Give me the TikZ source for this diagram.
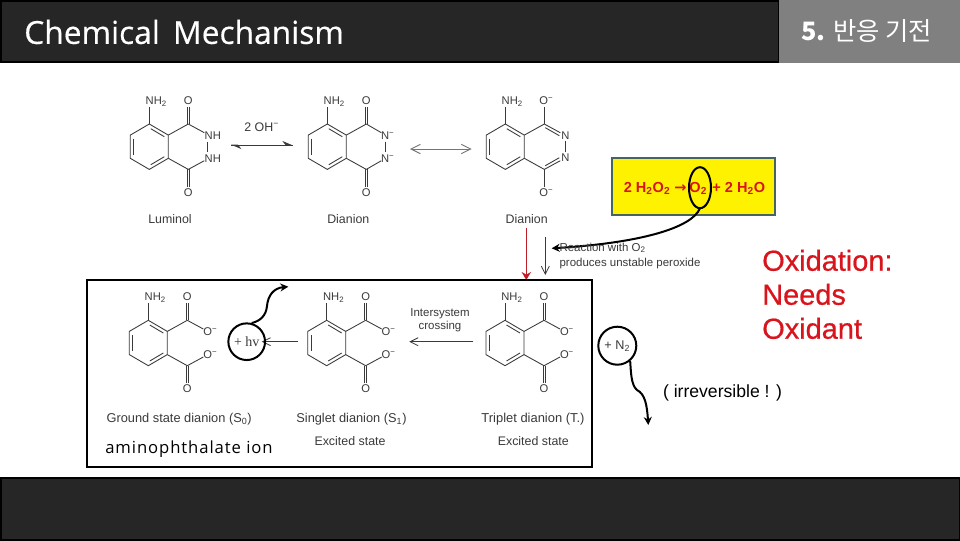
\documentclass[tikz,border=0pt]{standalone}
\usepackage{fontspec}
\setmainfont{Liberation Sans}
\newfontfamily\krfont{Noto Sans CJK KR}
\newfontfamily\titlefont[WordSpace=1.6,FakeBold=0.4]{Open Sans}
\newfontfamily\ionfont[LetterSpace=5.5]{Open Sans}
\newfontfamily\sermo{Liberation Serif}
\newfontfamily\oxfont[FakeBold=0.6]{Liberation Sans}
\newfontfamily\dvfont{DejaVu Sans}
\usetikzlibrary{arrows.meta}
\definecolor{hdr}{HTML}{262626}
\definecolor{chem}{HTML}{3A3A3A}
\definecolor{redtxt}{HTML}{D8141C}
\tikzset{
  bar/.style={fill=hdr,draw=black,line width=1.5pt},
  bnd/.style={draw=chem,line width=0.65pt},
  atom/.style={text=chem,font=\fontsize{8.4}{10}\selectfont,inner sep=0pt},
  lbl/.style={text=chem,font=\fontsize{9.3}{11}\selectfont,inner sep=0pt},
  lblwide/.style={text=chem,font=\fontsize{9.6}{11}\selectfont,inner sep=0pt},
  lblsmall/.style={text=chem,font=\fontsize{8.6}{10}\selectfont,inner sep=0pt},
  rxn/.style={draw=chem,line width=0.6pt},
  ink/.style={draw=black,line width=1.5pt},
  inkarrow/.style={ink,-{Stealth[length=6pt,width=6pt]}},
  oxid/.style={text=redtxt,font=\oxfont\fontsize{21.7}{25.5}\selectfont,align=left,inner sep=0pt},
  eqn/.style={text=redtxt,font=\bfseries\fontsize{10.9}{12}\selectfont,inner sep=0pt}
}
% benzene ring with NH2, centred on the current scope origin
\newcommand{\benz}[1]{%
  \draw[bnd] (0,-22.7) -- (19,-11.6) -- (19,11.6) -- (0,22.7) -- (-19,11.6) -- (-19,-11.6) -- cycle;
  \draw[bnd] (-15.5,-8) -- (-15.5,8);
  \draw[bnd] (1.5,-18) -- (15,-10);
  \draw[bnd] (1.5,18) -- (15,10);
  \node[atom] (#1nh) at (7,-45) {NH\textsubscript{2}};
  \draw[bnd] (0,-22.7) -- (0,-40);
  \draw[bnd] (19,-11.6) -- (39,-22.7);
  \draw[bnd] (19,11.6) -- (39,22.7);
}
\newcommand{\carbonyls}[1]{%
  \node[atom] (#1ot) at (39,-46) {O};
  \node[atom] (#1ob) at (39,46) {O};
  \draw[bnd] (38,-22.7) -- (38,-40) (40,-22.7) -- (40,-40);
  \draw[bnd] (38,22.7) -- (38,40) (40,22.7) -- (40,40);
}
\newcommand{\carboxyl}[1]{%
  \carbonyls{#1}
  \draw[bnd] (39,-22.7) -- (55,-14);
  \draw[bnd] (39,22.7) -- (55,14);
  \node[atom] (#1oa) at (62,-11.3) {O\textsuperscript{−}};
  \node[atom] (#1oc) at (62,11.3) {O\textsuperscript{−}};
}
\begin{document}
\begin{tikzpicture}[x=0.75pt,y=-0.75pt]
\useasboundingbox (0,0) rectangle (960,540);
\fill[white] (0,0) rectangle (960,540);
% bars
\draw[bar] (0.5,0.5) rectangle (779,62);
\fill[black!50] (779,0) rectangle (960,63);
\draw[bar] (0.5,477.5) rectangle (959.5,539.5);
\node[text=white,font=\titlefont\fontsize{23.8}{28}\selectfont,anchor=west,inner sep=0pt] (title) at (24,32) {Chemical Mechanism};
\node[text=white,font=\krfont\fontsize{19}{22}\selectfont,anchor=center,inner sep=0pt] (sect) at (866.5,31) {\textbf{5.} 반응 기전};

% luminol row
\begin{scope}[shift={(149.3,146.7)}]
  \benz{a}\carbonyls{a}
  \draw[bnd] (39,-22.7) -- (55,-14);
  \draw[bnd] (39,22.7) -- (55,14);
  \node[atom] (an1) at (63.5,-11.5) {NH};
  \node[atom] (an2) at (63.5,11.5) {NH};
  \draw[bnd] (58,-5) -- (58,5);
\end{scope}
\begin{scope}[shift={(327.3,146.7)}]
  \benz{b}\carbonyls{b}
  \draw[bnd] (39,-22.7) -- (54,-14);
  \draw[bnd] (39,22.7) -- (54,14);
  \node[atom] (bn1) at (60.5,-11.5) {N\textsuperscript{−}};
  \node[atom] (bn2) at (60.5,11.5) {N\textsuperscript{−}};
  \draw[bnd] (58,-5) -- (58,5);
\end{scope}
\begin{scope}[shift={(505.3,146.7)}]
  \benz{c}
  \node[atom] (cot) at (41,-46) {O\textsuperscript{−}};
  \node[atom] (cob) at (41,46) {O\textsuperscript{−}};
  \draw[bnd] (39,-22.7) -- (39,-40) (39,22.7) -- (39,40);
  \draw[bnd] (39,-22.7) -- (55,-14) (40,-19) -- (54,-11);
  \draw[bnd] (39,22.7) -- (55,14) (40,19) -- (54,11);
  \node[atom] (cn1) at (60,-11) {N};
  \node[atom] (cn2) at (60,11) {N};
  \draw[bnd] (60,-5.5) -- (60,5.5);
\end{scope}
\node[lbl] (lum) at (170,219.5) {Luminol};
\node[lbl] (dia1) at (348.3,219.5) {Dianion};
\node[lbl] (dia2) at (526.7,219.5) {Dianion};
\node[lbl] (oh) at (261.7,127.7) {2 OH\textsuperscript{−}};

% equilibrium and resonance arrows
\coordinate (eqL) at (231,145);
\coordinate (eqR) at (292.7,145);
\draw[rxn,-{Stealth[left,length=7pt,width=6pt]}] (eqL) -- (eqR);
\draw[rxn,-{Stealth[left,length=7pt,width=6pt]}] (eqR) -- (eqL);
\coordinate (resL) at (410,149);
\coordinate (resR) at (471.7,149);
\draw[draw=chem!70,line width=0.4pt,{Straight Barb[length=7pt,width=7pt,line width=0.7pt]}-{Straight Barb[length=7pt,width=7pt,line width=0.7pt]}] (resL) -- (resR);

% yellow box
\node[draw={rgb,255:red,70;green,100;blue,100},line width=1.5pt,fill=yellow,minimum width=122.5pt,minimum height=43pt,inner sep=0pt] (ybox) at (693.3,186.3) {};
\node[eqn] (eq) at (694.5,188.5) {2 H\textsubscript{2}O\textsubscript{2} {\dvfont\bfseries→}\kern2.2pt O\textsubscript{2}\kern1pt{} + 2 H\textsubscript{2}O};
\draw[ink] (700,187.7) ellipse [x radius=11,y radius=20.5];
\coordinate (ellB) at (700,208.2);
\coordinate (rxnpt) at (551.7,248.3);
\draw[inkarrow] (ellB) .. controls (692,228) and (640,243) .. (rxnpt);

% red and grey down arrows
\coordinate (redS) at (526.3,228);
\coordinate (redE) at (526.3,280);
\draw[draw={rgb,255:red,190;green,30;blue,40},line width=1pt,-{Stealth[length=6pt,width=7pt]}] (redS) -- (redE);
\coordinate (grS) at (545.3,237);
\coordinate (grE) at (545.3,275);
\draw[draw=chem,line width=0.5pt,-{Straight Barb[length=6pt,width=6pt,line width=0.6pt]}] (grS) -- (grE);
\node[lblsmall,anchor=west] (rw) at (559.3,248) {Reaction with O\textsubscript{2}};
\node[lblsmall,anchor=west] (pu) at (559.3,264) {produces unstable peroxide};

% text right
\node[oxid,anchor=north west] (ox) at (762,249.5) {Oxidation:\\Needs\\Oxidant};
\node[font=\fontsize{13.2}{15}\selectfont,inner sep=0pt] (irr) at (722.5,393) {( irreversible ! )};

% big box
\node[draw=black,line width=1.9pt,minimum width=378.7pt,minimum height=140pt,inner sep=0pt] (bigbox) at (339.5,373.5) {};

% lower row
\begin{scope}[shift={(148.3,343)}]
  \benz{d}\carboxyl{d}
\end{scope}
\begin{scope}[shift={(326.7,343)}]
  \benz{e}\carboxyl{e}
\end{scope}
\begin{scope}[shift={(505,343)}]
  \benz{f}\carboxyl{f}
\end{scope}

\node[lblwide] (gs) at (179.2,419) {Ground state dianion (S\textsubscript{0})};
\node[lblwide] (sd) at (351.5,419) {Singlet dianion (S\textsubscript{1})};
\node[lblwide,font=\fontsize{9.7}{11}\selectfont] (td) at (533,419) {Triplet dianion (T.)};
\node[lbl] (ex1) at (350,440.7) {Excited state};
\node[lbl] (ex2) at (533.3,440.7) {Excited state};
\node[font=\ionfont\fontsize{12.5}{15}\selectfont,inner sep=0pt,anchor=west] (ion) at (105,449) {aminophthalate ion};

% intersystem crossing
\node[lblsmall,align=center,font=\fontsize{8.6}{9.6}\selectfont] (isc) at (440,320.5) {Intersystem\\crossing};
\coordinate (iscR) at (473.3,341.7);
\coordinate (iscL) at (409.3,341.7);
\draw[rxn,-{Straight Barb[length=6pt,width=6pt,line width=0.6pt]}] (iscR) -- (iscL);
\coordinate (hvR) at (298.3,341.7);
\coordinate (hvL) at (261.7,341.7);
\draw[rxn,-{Straight Barb[length=6pt,width=6pt,line width=0.6pt]}] (hvR) -- (hvL);

% + hv circle
\node[ink,circle,minimum size=27.5pt,inner sep=0pt,font=\sermo\fontsize{10.5}{12}\selectfont,text=chem] (hv) at (246.7,341.7) {+ hv};
\coordinate (hvOut) at (288.3,286.7);
\draw[inkarrow] (hv.75) .. controls (260,321) and (266,316) .. (267,306) .. controls (268,295) and (274,288) .. (hvOut);

% + N2 circle
\node[ink,circle,minimum size=28.5pt,inner sep=0pt,font=\fontsize{9.5}{11}\selectfont,text=chem] (ntwo) at (617.3,345.7) {+ N\textsubscript{2}};
\coordinate (nOut) at (648.3,425);
\draw[inkarrow] (ntwo.-50) .. controls (631,372) and (631,385) .. (637,390) .. controls (645,394) and (647,405) .. (nOut);
\end{tikzpicture}
\end{document}
